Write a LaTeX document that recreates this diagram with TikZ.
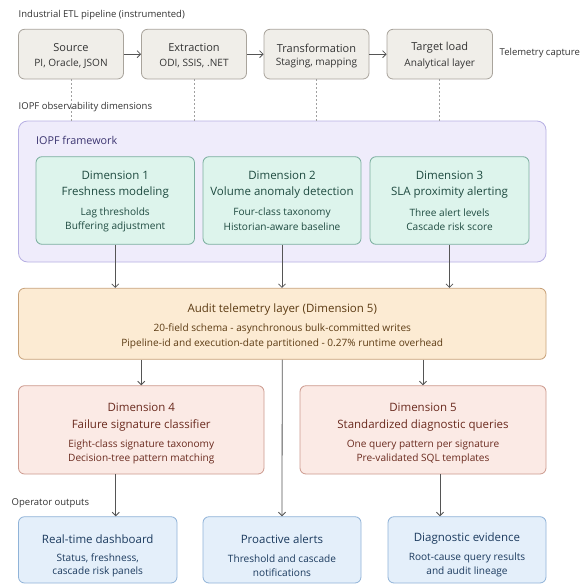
\documentclass[tikz,border=0pt]{standalone}
\usepackage{fontspec}
\setmainfont{Open Sans}
\usetikzlibrary{fit,arrows.meta}
\definecolor{etlfill}{HTML}{F0EEE9}
\definecolor{etlline}{HTML}{A9A49C}
\definecolor{frfill}{HTML}{EFECFB}
\definecolor{frline}{HTML}{B7B0E3}
\definecolor{frtext}{HTML}{3B3470}
\definecolor{dimfill}{HTML}{DDF4EC}
\definecolor{dimline}{HTML}{7BAE9F}
\definecolor{dimtext}{HTML}{1E4A40}
\definecolor{audfill}{HTML}{FCEBD3}
\definecolor{audline}{HTML}{C8A27A}
\definecolor{audtext}{HTML}{5C3B13}
\definecolor{d45fill}{HTML}{FBEAE5}
\definecolor{d45line}{HTML}{CC9A8E}
\definecolor{d45text}{HTML}{6A2A1E}
\definecolor{outfill}{HTML}{E4EFFA}
\definecolor{outline}{HTML}{90B3D8}
\definecolor{outtext}{HTML}{1B3A5E}
\definecolor{headtext}{HTML}{333333}
\definecolor{arrcol}{HTML}{555555}
\definecolor{dashcol}{HTML}{A0A0A0}
\tikzset{
  box/.style={rounded corners=6pt, line width=0.8pt, inner sep=0pt},
  etlbox/.style={box, fill=etlfill, draw=etlline},
  frbox/.style={box, fill=frfill, draw=frline, rounded corners=9pt},
  dimbox/.style={box, fill=dimfill, draw=dimline},
  audbox/.style={box, fill=audfill, draw=audline},
  dfbox/.style={box, fill=d45fill, draw=d45line},
  outbox/.style={box, fill=outfill, draw=outline},
  txt/.style={inner sep=0pt, anchor=center},
  topbig/.style={txt, font=\fontsize{11}{13}\selectfont},
  big/.style={txt, font=\fontsize{11.5}{13.5}\selectfont},
  small/.style={txt, font=\fontsize{10.1}{12}\selectfont},
  head/.style={inner sep=0pt, anchor=west, font=\fontsize{9.5}{11}\selectfont, text=headtext},
  arr/.style={draw=arrcol, line width=0.8pt, -{Straight Barb[length=3.5pt,width=7pt]}},
  dashline/.style={draw=dashcol, line width=0.6pt, dash pattern=on 2pt off 2pt}
}
\begin{document}
\begin{tikzpicture}[x=1pt,y=-1pt]
\useasboundingbox (0,0) rectangle (581,584);
\fill[white] (0,0) rectangle (581,584);

% headings
\node[head] (h1) at (18.5,15) {Industrial ETL pipeline (instrumented)};
\node[head] (h2) at (18.5,107.3) {IOPF observability dimensions};
\node[head] (h3) at (499.5,53) {Telemetry capture};
\node[head] (h4) at (11.5,502.7) {Operator outputs};

% ETL boxes
\node[etlbox, fit={(18.5,29.3)(123.5,79)}] (src) {};
\node[etlbox, fit={(141.5,29.3)(246.5,79)}] (ext) {};
\node[etlbox, fit={(264,29.3)(369,79)}] (trf) {};
\node[etlbox, fit={(387,29.3)(492.5,79)}] (tl) {};
\foreach \n/\a/\b in {src/Source/{PI, Oracle, JSON}, ext/Extraction/{ODI, SSIS, .NET}, trf/Transformation/{Staging, mapping}, tl/Target load/Analytical layer}{
  \node[topbig, text=headtext] (\n t1) at (\n.center |- 0,48) {\a};
  \node[small, text=headtext] (\n t2) at (\n.center |- 0,63.5) {\b};
}
\draw[arr] (src) -- (ext);
\draw[arr] (ext) -- (trf);
\draw[arr] (trf) -- (tl);

% framework
\node[frbox, fit={(18.5,121)(546,262)}] (fr) {};
\node[inner sep=0pt, anchor=west, font=\fontsize{10.8}{12}\selectfont, text=frtext] (frt) at (36,140) {IOPF framework};
\foreach \n in {src,ext,trf,tl}{
  \draw[dashline] (\n.south) -- (\n.south |- fr.north);
}
\node[dimbox, fit={(36,156.7)(194.5,244.3)}] (d1) {};
\node[dimbox, fit={(203,156.7)(361,244.3)}] (d2) {};
\node[dimbox, fit={(370,156.7)(529,244.3)}] (d3) {};
\foreach \n/\a/\b/\c/\d in {d1/Dimension 1/Freshness modeling/Lag thresholds/Buffering adjustment, d2/Dimension 2/Volume anomaly detection/Four-class taxonomy/Historian-aware baseline, d3/Dimension 3/SLA proximity alerting/Three alert levels/Cascade risk score}{
  \node[big, text=dimtext] (\n t1) at (\n.center |- 0,175) {\a};
  \node[big, text=dimtext] (\n t2) at (\n.center |- 0,192.3) {\b};
  \node[small, text=dimtext] (\n t3) at (\n.center |- 0,212.7) {\c};
  \node[small, text=dimtext] (\n t4) at (\n.center |- 0,226.7) {\d};
}

% audit
\node[audbox, fit={(18.5,288.3)(546,359.3)}] (aud) {};
\node[big, text=audtext] (audt1) at (aud.center |- 0,309.3) {Audit telemetry layer (Dimension 5)};
\node[small, text=audtext] (audt2) at (aud.center |- 0,329.3) {20-field schema - asynchronous bulk-committed writes};
\node[small, text=audtext] (audt3) at (aud.center |- 0,344) {Pipeline-id and execution-date partitioned - 0.27\% runtime overhead};
\foreach \n in {d1,d2,d3}{
  \draw[arr] (\n.south) -- (\n.south |- aud.north);
}

% dimension 4 / 5
\node[dfbox, fit={(18.5,385.7)(264,474)}] (d4) {};
\node[dfbox, fit={(300,385.7)(546,474)}] (d5) {};
\foreach \n/\a/\b/\c/\d in {d4/Dimension 4/Failure signature classifier/Eight-class signature taxonomy/Decision-tree pattern matching, d5/Dimension 5/Standardized diagnostic queries/One query pattern per signature/Pre-validated SQL templates}{
  \node[big, text=d45text] (\n t1) at (\n.center |- 0,407.7) {\a};
  \node[big, text=d45text] (\n t2) at (\n.center |- 0,425.7) {\b};
  \node[small, text=d45text] (\n t3) at (\n.center |- 0,445) {\c};
  \node[small, text=d45text] (\n t4) at (\n.center |- 0,459.3) {\d};
}
\draw[arr] (aud.south -| d4.north) -- (d4.north);
\draw[arr] (aud.south -| d5.north) -- (d5.north);

% outputs
\node[outbox, fit={(18.5,516.7)(177,583)}] (dash) {};
\node[outbox, fit={(203,516.7)(361,583)}] (alrt) {};
\node[outbox, fit={(388,516.7)(546,583)}] (diag) {};
\foreach \n/\a/\b/\c in {dash/Real-time dashboard/{Status, freshness,}/cascade risk panels, alrt/Proactive alerts/Threshold and cascade/notifications, diag/Diagnostic evidence/Root-cause query results/and audit lineage}{
  \node[big, text=outtext] (\n t1) at (\n.center |- 0,539) {\a};
  \node[small, text=outtext] (\n t2) at (\n.center |- 0,558.3) {\b};
  \node[small, text=outtext] (\n t3) at (\n.center |- 0,572.3) {\c};
}
\draw[arr] ([xshift=-25.5pt]d4.south) -- ([xshift=-25.5pt]d4.south |- dash.north);
\draw[arr] (aud.south) -- (alrt.north);
\draw[arr] ([xshift=17pt]d5.south) -- ([xshift=17pt]d5.south |- diag.north);
\end{tikzpicture}
\end{document}
